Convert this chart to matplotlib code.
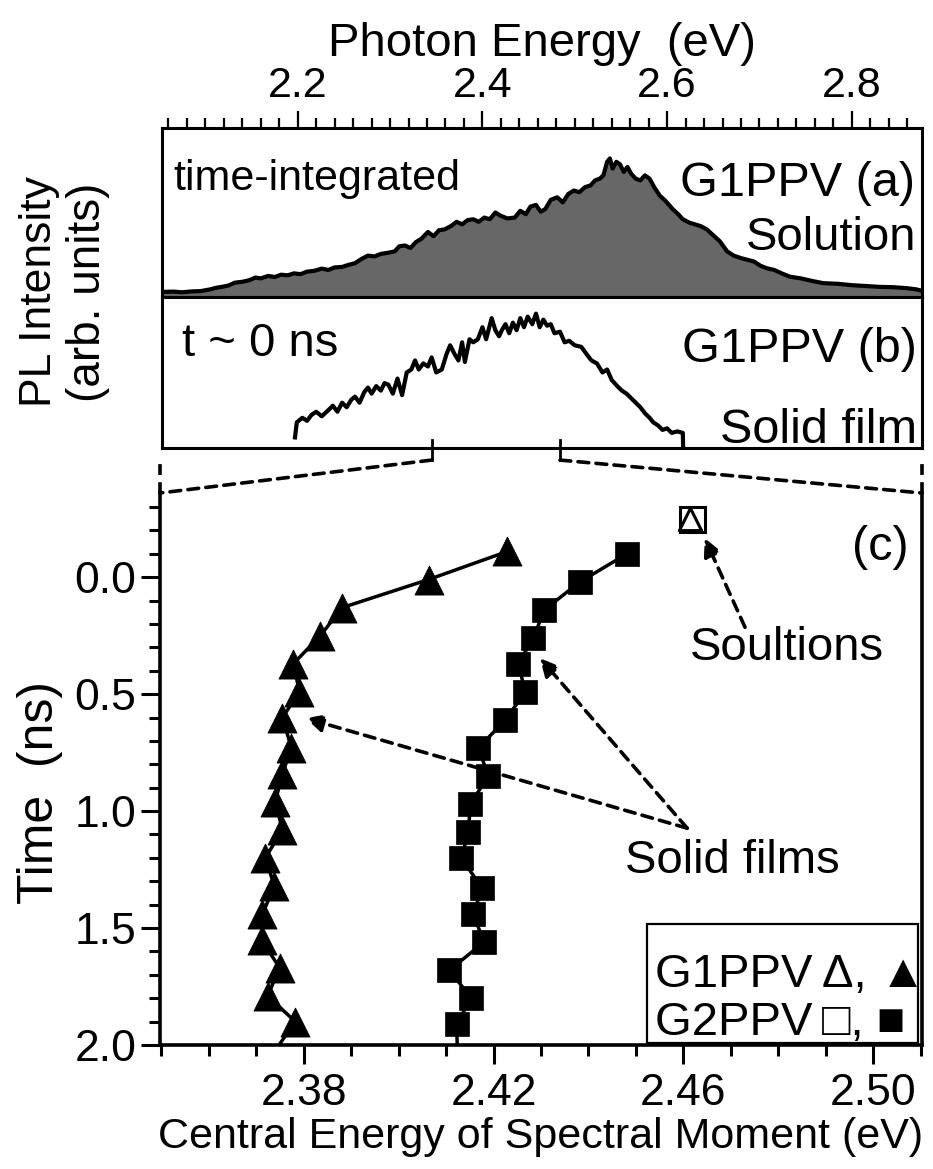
import numpy as np
import matplotlib
matplotlib.use("Agg")
import matplotlib.pyplot as plt
from matplotlib.ticker import MultipleLocator, FixedLocator
from matplotlib.patches import ConnectionPatch, Rectangle

plt.rcParams['font.family'] = ['Liberation Sans', 'DejaVu Sans']

# ---------------------------------------------------------------
# Données
# ---------------------------------------------------------------
# (a) spectre PL intégré en temps, solution (intensité normalisée au cadre)
sol_energy = [2.053, 2.065, 2.075, 2.085, 2.095, 2.105, 2.112, 2.118, 2.125, 2.132,
              2.140, 2.148, 2.154, 2.160, 2.168, 2.175, 2.182, 2.189, 2.196, 2.203,
              2.210, 2.218, 2.226, 2.233, 2.240, 2.248, 2.255, 2.262, 2.269, 2.276,
              2.283, 2.290, 2.298, 2.305, 2.310, 2.316, 2.322, 2.328, 2.334, 2.341,
              2.347, 2.353, 2.359, 2.366, 2.372, 2.378, 2.384, 2.390, 2.396, 2.402,
              2.408, 2.414, 2.420, 2.427, 2.435, 2.441, 2.447, 2.452, 2.458, 2.463,
              2.468, 2.474, 2.481, 2.487, 2.493, 2.499, 2.505, 2.511, 2.517, 2.522,
              2.527, 2.531, 2.535, 2.538, 2.541, 2.545, 2.549, 2.553, 2.557, 2.561,
              2.566, 2.571, 2.576, 2.581, 2.586, 2.592, 2.598, 2.606, 2.612, 2.617,
              2.624, 2.630, 2.636, 2.643, 2.650, 2.657, 2.665, 2.672, 2.680, 2.687,
              2.694, 2.701, 2.708, 2.716, 2.724, 2.733, 2.745, 2.757, 2.769, 2.785,
              2.800, 2.815, 2.830, 2.845, 2.860, 2.870, 2.877]
sol_int = [0.030, 0.032, 0.028, 0.033, 0.035, 0.045, 0.055, 0.060, 0.068, 0.085,
           0.090, 0.100, 0.115, 0.110, 0.125, 0.118, 0.132, 0.128, 0.140, 0.135,
           0.150, 0.155, 0.168, 0.160, 0.175, 0.178, 0.190, 0.200, 0.225, 0.245,
           0.240, 0.255, 0.262, 0.270, 0.300, 0.305, 0.290, 0.325, 0.345, 0.385,
           0.360, 0.395, 0.400, 0.420, 0.445, 0.430, 0.455, 0.460, 0.445, 0.470,
           0.460, 0.500, 0.480, 0.465, 0.470, 0.510, 0.490, 0.535, 0.545, 0.505,
           0.520, 0.575, 0.590, 0.560, 0.610, 0.630, 0.620, 0.650, 0.660, 0.690,
           0.700, 0.720, 0.800, 0.820, 0.760, 0.800, 0.785, 0.740, 0.770, 0.730,
           0.700, 0.690, 0.720, 0.700, 0.650, 0.600, 0.570, 0.520, 0.490, 0.460,
           0.440, 0.430, 0.420, 0.400, 0.365, 0.330, 0.270, 0.245, 0.230, 0.220,
           0.210, 0.185, 0.170, 0.160, 0.140, 0.120, 0.110, 0.095, 0.082, 0.078,
           0.070, 0.065, 0.060, 0.058, 0.052, 0.045, 0.035]

# (b) spectre PL à t ~ 0 ns, film solide
film_energy = [2.197, 2.199, 2.205, 2.210, 2.215, 2.220, 2.226, 2.233, 2.238, 2.243,
               2.248, 2.253, 2.258, 2.262, 2.267, 2.272, 2.276, 2.280, 2.285, 2.290,
               2.294, 2.298, 2.303, 2.308, 2.313, 2.318, 2.323, 2.327, 2.331, 2.336,
               2.341, 2.345, 2.350, 2.356, 2.361, 2.365, 2.370, 2.374, 2.378, 2.381,
               2.386, 2.390, 2.395, 2.400, 2.404, 2.410, 2.414, 2.418, 2.421, 2.425,
               2.429, 2.433, 2.437, 2.441, 2.445, 2.449, 2.454, 2.458, 2.462, 2.466,
               2.470, 2.474, 2.478, 2.484, 2.489, 2.494, 2.500, 2.507, 2.513, 2.518,
               2.524, 2.530, 2.535, 2.540, 2.546, 2.551, 2.556, 2.561, 2.566, 2.571,
               2.576, 2.581, 2.585, 2.590, 2.595, 2.600, 2.605, 2.611, 2.617, 2.6175]
film_int = [0.07, 0.17, 0.20, 0.18, 0.22, 0.24, 0.21, 0.25, 0.28, 0.24,
            0.30, 0.27, 0.32, 0.34, 0.30, 0.37, 0.40, 0.36, 0.41, 0.38,
            0.43, 0.42, 0.36, 0.46, 0.35, 0.50, 0.52, 0.58, 0.52, 0.56,
            0.54, 0.60, 0.50, 0.52, 0.62, 0.68, 0.62, 0.58, 0.70, 0.57,
            0.72, 0.70, 0.72, 0.80, 0.72, 0.86, 0.78, 0.74, 0.78, 0.82,
            0.76, 0.83, 0.78, 0.86, 0.80, 0.87, 0.82, 0.89, 0.80, 0.85,
            0.81, 0.82, 0.76, 0.77, 0.70, 0.71, 0.68, 0.67, 0.62, 0.58,
            0.56, 0.50, 0.52, 0.45, 0.41, 0.38, 0.36, 0.33, 0.30, 0.27,
            0.23, 0.20, 0.17, 0.15, 0.12, 0.13, 0.10, 0.11, 0.10, -0.05]

# (c) énergie centrale du moment spectral vs temps (films solides)
g1_time = [-0.11, 0.01, 0.13, 0.25, 0.37, 0.49, 0.60, 0.73, 0.84, 0.96,
           1.08, 1.20, 1.32, 1.44, 1.55, 1.67, 1.79, 1.90]
g1_energy = [2.4229, 2.4063, 2.3881, 2.3835, 2.3778, 2.3791, 2.3755, 2.3774, 2.3755, 2.3740,
             2.3755, 2.3719, 2.3738, 2.3713, 2.3711, 2.3749, 2.3724, 2.3782]
g2_time = [-0.10, 0.02, 0.14, 0.26, 0.37, 0.49, 0.61, 0.73, 0.85, 0.97,
           1.09, 1.20, 1.33, 1.44, 1.56, 1.68, 1.80, 1.91]
g2_energy = [2.4481, 2.4382, 2.4307, 2.4284, 2.4252, 2.4267, 2.4225, 2.4168, 2.4189, 2.4151,
             2.4147, 2.4132, 2.4176, 2.4157, 2.4180, 2.4107, 2.4153, 2.4122]
# points suivants, hors cadre (seule la ligne est visible)
g1_next = (2.0350, 2.3736)
g2_next = (2.0350, 2.4124)

# solutions
sol_time = -0.25
g1_sol_energy = 2.4614
g2_sol_energy = 2.4619

energy_ticks_c = [2.38, 2.42, 2.46, 2.50]

# ---------------------------------------------------------------
fig = plt.figure(figsize=(9.33, 11.69), dpi=100)
W, H = 933.0, 1169.0

def box(x0, y0, x1, y1):
    return [x0 / W, 1 - y1 / H, (x1 - x0) / W, (y1 - y0) / H]

ax_a = fig.add_axes(box(162, 128, 922, 297))
ax_b = fig.add_axes(box(162, 297, 922, 448), sharex=ax_a)
ax_c = fig.add_axes(box(160, 493, 922, 1045))

# triangle fermé (sommet en haut)
tri = [(0, 1), (-1, -1), (1, -1), (0, 1)]

# --- (a)
ax_a.fill_between(sol_energy, 0, sol_int, color='#676767', lw=0)
ax_a.plot(sol_energy, sol_int, color='black', lw=3)
ax_a.set_xlim(2.053, 2.876)
ax_a.set_ylim(0, 1)
ax_a.xaxis.set_major_locator(MultipleLocator(0.2))
ax_a.xaxis.set_minor_locator(MultipleLocator(0.02))
ax_a.xaxis.tick_top()
ax_a.xaxis.set_label_position('top')
ax_a.tick_params(axis='x', which='major', direction='out', length=12, width=1.6,
                 labelsize=31, pad=4)
ax_a.tick_params(axis='x', which='minor', direction='out', length=7, width=1.6)
ax_a.set_yticks([])
ax_a.set_xlabel('Photon Energy  (eV)', fontsize=34, labelpad=7)
ax_a.text(0.0145, 0.633, 'time-integrated', transform=ax_a.transAxes,
          fontsize=31, ha='left', va='baseline')
ax_a.text(0.991, 0.598, 'G1PPV (a)', transform=ax_a.transAxes,
          fontsize=35, ha='right', va='baseline')
ax_a.text(0.993, 0.278, 'Solution', transform=ax_a.transAxes,
          fontsize=34, ha='right', va='baseline')

# --- (b)
ax_b.plot(film_energy, film_int, color='black', lw=3)
ax_b.set_ylim(0, 1)
ax_b.set_yticks([])
ax_b.tick_params(axis='x', which='both', bottom=False, top=False,
                 labelbottom=False, labeltop=False)
ax_b.text(0.026, 0.607, 't ~ 0 ns', transform=ax_b.transAxes,
          fontsize=34, ha='left', va='baseline')
ax_b.text(0.993, 0.567, 'G1PPV (b)', transform=ax_b.transAxes,
          fontsize=35, ha='right', va='baseline')
ax_b.text(0.993, 0.033, 'Solid film', transform=ax_b.transAxes,
          fontsize=35, ha='right', va='baseline')

for ax in (ax_a, ax_b):
    for s in ax.spines.values():
        s.set_linewidth(2.2)

# --- (c)
ax_c.plot(g1_energy + [g1_next[1]], g1_time + [g1_next[0]], color='black', lw=2.5)
ax_c.plot(g2_energy + [g2_next[1]], g2_time + [g2_next[0]], color='black', lw=2.5)
ax_c.plot(g1_energy, g1_time, ls='none', marker=tri, ms=21, color='black', mew=0.5)
ax_c.plot(g2_energy, g2_time, ls='none', marker='s', ms=17, color='black', mew=0.5)
ax_c.plot([g2_sol_energy], [sol_time], ls='none', marker='s', ms=18, mfc='white',
          mec='black', mew=2.2)
ax_c.plot([g1_sol_energy], [sol_time], ls='none', marker=tri, ms=16, mfc='none',
          mec='black', mew=2.2)

ax_c.set_xlim(2.3497, 2.5103)
ax_c.set_ylim(2.0, -0.36)
ax_c.xaxis.set_major_locator(FixedLocator(energy_ticks_c))
ax_c.xaxis.set_minor_locator(MultipleLocator(0.01))
ax_c.yaxis.set_major_locator(MultipleLocator(0.5))
ax_c.yaxis.set_minor_locator(MultipleLocator(0.1))
ax_c.xaxis.set_major_formatter(plt.FormatStrFormatter('%.2f'))
ax_c.yaxis.set_major_formatter(plt.FormatStrFormatter('%.1f'))
ax_c.tick_params(which='major', direction='out', length=14, width=2.2, labelsize=32)
ax_c.tick_params(which='minor', direction='out', length=8, width=2.2)
ax_c.tick_params(axis='x', which='both', pad=6)
ax_c.tick_params(axis='y', which='both', pad=3)
ax_c.spines['top'].set_visible(False)
for s in ('left', 'right', 'bottom'):
    ax_c.spines[s].set_linewidth(2.6)
ax_c.set_xlabel('Central Energy of Spectral Moment (eV)', fontsize=31, labelpad=2)

ax_c.text(0.982, 0.902, '(c)', transform=ax_c.transAxes, fontsize=35,
          ha='right', va='center')
ax_c.text(0.696, 0.697, 'Soultions', transform=ax_c.transAxes, fontsize=34,
          ha='left', va='baseline')
ax_c.text(0.610, 0.312, 'Solid films', transform=ax_c.transAxes, fontsize=34,
          ha='left', va='baseline')

arrow = dict(arrowstyle='-|>', ls=(0, (3, 2)), lw=2.6, color='black',
             mutation_scale=26, shrinkA=0, shrinkB=0)
ax_c.annotate('', xy=(2.4645, -0.167), xytext=(2.4730, 0.214), arrowprops=arrow)
ax_c.annotate('', xy=(2.4298, 0.346), xytext=(2.4608, 1.073), arrowprops=arrow)
ax_c.annotate('', xy=(2.3804, 0.603), xytext=(2.4608, 1.073), arrowprops=arrow)

# légende dessinée à la main
ax_c.add_patch(Rectangle((0.639, 0.004), 0.356, 0.215, transform=ax_c.transAxes,
                         fill=False, lw=1.6, ec='black', clip_on=False))
ax_c.text(0.650, 0.105, 'G1PPV\u2009Δ, ▲', transform=ax_c.transAxes, fontsize=34,
          ha='left', va='baseline')
ax_c.text(0.650, 0.018, 'G2PPV\u2009□, ■', transform=ax_c.transAxes, fontsize=34,
          ha='left', va='baseline')

# étiquettes des axes y
fig.text(40 / W, 1 - 292 / H, 'PL Intensity', rotation=90, fontsize=32,
         ha='center', va='center')
fig.text(88 / W, 1 - 292 / H, '(arb. units)', rotation=90, fontsize=33,
         ha='center', va='center')
fig.text(40 / W, 1 - 792 / H, 'Time  (ns)', rotation=90, fontsize=36,
         ha='center', va='center')

# lignes de zoom entre (b) et (c)
zoom_lo, zoom_hi = 2.345, 2.484
for e in (zoom_lo, zoom_hi):
    ax_b.plot([e, e], [0.05, -0.08], color='black', lw=2, clip_on=False)
for e, xc in ((zoom_lo, 0.0), (zoom_hi, 1.0)):
    cp = ConnectionPatch(xyA=(e, -0.08), coordsA=ax_b.transData,
                         xyB=(xc, 1.0), coordsB=ax_c.transAxes,
                         ls=(0, (3, 2)), lw=2.6, color='black')
    fig.add_artist(cp)
    ax_c.plot([xc, xc], [1.0, 1.065], transform=ax_c.transAxes, color='black',
              ls=(0, (3, 2)), lw=2.6, clip_on=False)

fig.savefig('out.png', dpi=100)
